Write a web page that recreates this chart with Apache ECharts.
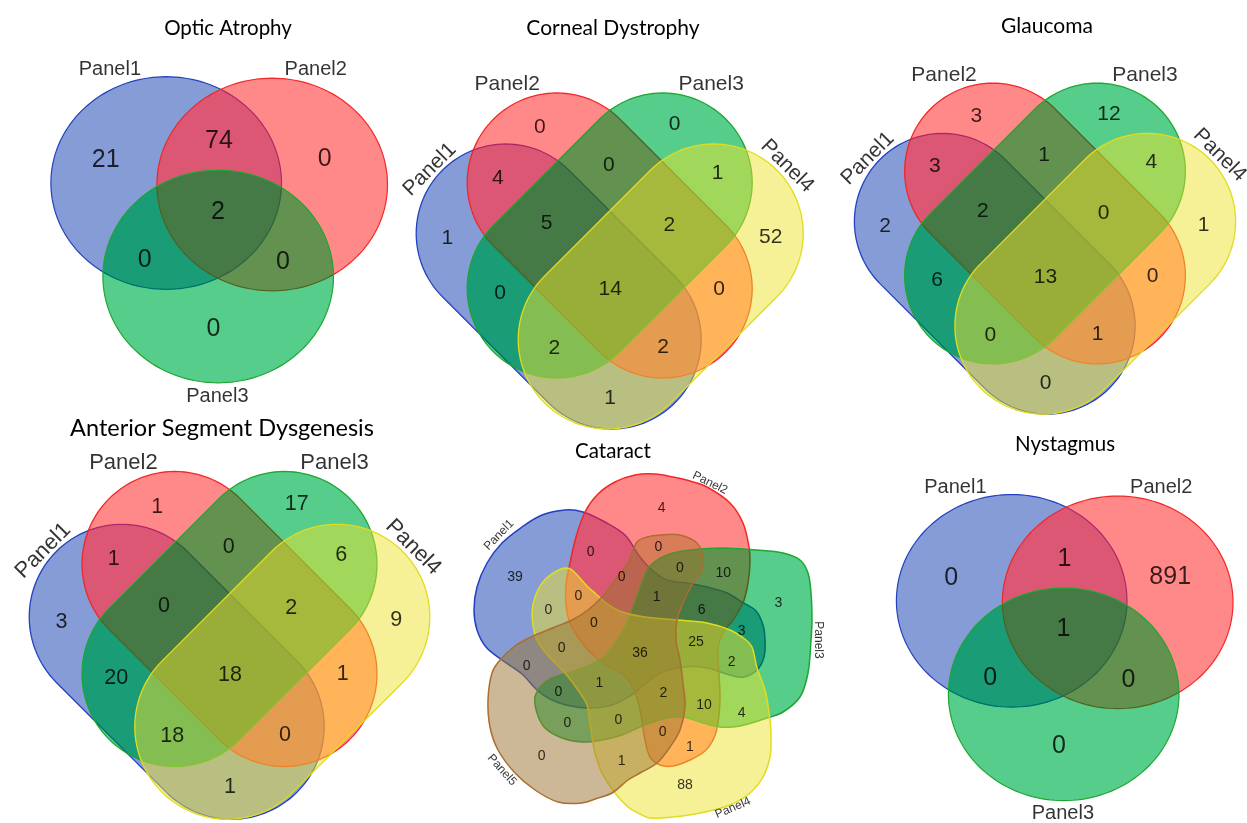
<!DOCTYPE html>
<html>
<head>
<meta charset="utf-8">
<script src="https://cdn.jsdelivr.net/npm/echarts@6/dist/echarts.min.js"></script>
<style>
html,body{margin:0;padding:0;background:#fff;}
#c{width:1247px;height:823px;filter:saturate(2);}
</style>
</head>
<body>
<div id="c"></div>
<script>
// ================= DATA =================
const panelTitles = ['Optic Atrophy', 'Corneal Dystrophy', 'Glaucoma', 'Anterior Segment Dysgenesis', 'Cataract', 'Nystagmus'];

// 3-set diagrams (region key = sets contained)
const set3Names = ['Panel1', 'Panel2', 'Panel3'];
const region3Keys = ['1', '12', '2', '123', '13', '23', '3'];
const opticAtrophyCounts = [21, 74, 0, 2, 0, 0, 0];
const nystagmusCounts = [0, 1, 891, 1, 0, 0, 0];

// 4-set diagrams
const set4Names = ['Panel1', 'Panel2', 'Panel3', 'Panel4'];
const region4Keys = ['2', '3', '12', '23', '34', '1', '123', '234', '4', '13', '1234', '24', '134', '124', '14'];
const cornealDystrophyCounts = [0, 0, 4, 0, 1, 1, 5, 2, 52, 0, 14, 0, 2, 2, 1];
const glaucomaCounts = [3, 12, 3, 1, 4, 2, 2, 0, 1, 6, 13, 0, 0, 1, 0];
const asdCounts = [1, 17, 1, 0, 6, 3, 0, 2, 9, 20, 18, 1, 18, 0, 1];

// 5-set diagram
const set5Names = ['Panel1', 'Panel2', 'Panel3', 'Panel4', 'Panel5'];
const region5Keys = ['1','2','12','25','125','235','23','3','124','1235','14','123','1245','13','1234','145','12345','15','134','1345','135','2345','234','34','35','345','245','24','5','45','4'];
const cataractCounts = [39,4,0,0,0,0,10,3,0,1,0,6,0,3,25,0,36,0,2,1,0,2,10,4,0,0,0,1,0,1,88];

// ================= STYLE =================
const FILL = ['rgba(35,57,115,0.5)', 'rgba(192,48,48,0.5)', 'rgba(8,125,60,0.5)', 'rgba(225,220,130,0.5)', 'rgba(136,115,81,0.5)'];
const STROKE = ['rgb(51,66,129)', 'rgb(161,61,61)', 'rgb(79,147,89)', 'rgb(216,214,119)', 'rgb(144,114,84)'];
const NUM_FONT = '"Liberation Sans", Arial, Helvetica, sans-serif';
const TITLE_FONT = 'Lato, "Open Sans", sans-serif';

// ================= LAYOUT TEMPLATES (diagram geometry, local units) =================
const layout3 = {
  centers: [[0, 0], [106, 1.5], [52, 93.5]], rx: 115.3, ry: 106.3,
  regionPos: { '1': [-60.5, -22.7], '12': [52.8, -41.8], '2': [158.5, -24], '123': [51.8, 28.8], '13': [-21.5, 77.2], '23': [116.8, 79], '3': [47.3, 145.7] },
  labelPos: [[-56.3, -113.5], [149.5, -113.2], [51.2, 213]],
  labelRot: [0, 0, 0],
  xr: [-125, 230], yr: [-130, 220]
};
const layout4 = {
  axes: [[[-104, -2], [2, 104]], [[-53, -53], [53, 53]], [[53, -53], [-53, 53]], [[104, -2], [-2, 104]]], r: 89.5,
  regionPos: {
    '2': [-69.8, -108.5], '3': [65, -110.8], '12': [-111.9, -57.7], '23': [-0.8, -69.8], '34': [107.9, -62],
    '1': [-162.4, 2.6], '123': [-63.2, -12.2], '234': [59.6, -10.3], '4': [161, 1.5],
    '13': [-109.5, 57.4], '1234': [0.5, 54.2], '24': [109.3, 53.5],
    '134': [-55.4, 113.2], '124': [53.5, 112.2], '14': [0.5, 162.5]
  },
  labelPos: [[-180, -66], [-102.5, -151], [101.5, -151], [177.5, -69.5]],
  labelRot: [45, 0, 0, -45],
  xr: [-215, 205], yr: [-185, 195]
};
const layout5 = {
  outlines: [
    [[-75,-140],[-57,-138],[-35,-128],[-15,-115],[0,-93],[12,-80],[27,-70],[47,-67],[67,-63],[87,-57],[102,-48],[116,-39],[123,-25],[125,-10],[124,7],[117,20],[104,27],[90,25],[67,18],[43,17],[20,23],[5,34],[-7,44],[-28,55],[-52,58],[-74,55],[-90,49],[-103,40],[-118,24],[-138,10],[-154,-3],[-163,-20],[-166,-40],[-163,-63],[-153,-87],[-138,-107],[-118,-123],[-98,-135]],
    [[-55,-138],[-42,-156],[-25,-168],[-5,-175],[15,-176],[33,-173],[50,-169],[67,-163],[90,-147],[103,-127],[109,-103],[110,-88],[108,-67],[103,-47],[93,-30],[83,-17],[78,-2],[79,23],[80,50],[78,73],[74,88],[65,101],[50,110],[33,116],[20,115],[10,107],[5,90],[1,65],[-4,45],[-14,27],[-32,16],[-45,7],[-60,-10],[-70,-27],[-74,-45],[-74,-65],[-70,-87],[-64,-113]],
    [[10,-84],[27,-95],[50,-100],[83,-102],[117,-100],[143,-97],[160,-90],[168,-77],[171,-57],[172,-30],[171,-10],[168,23],[160,47],[143,62],[127,68],[100,76],[80,77],[60,72],[43,67],[27,68],[10,73],[0,77],[-18,85],[-38,90],[-58,92],[-78,88],[-95,78],[-103,63],[-105,47],[-98,35],[-88,28],[-63,20],[-37,7],[-17,-20],[-3,-53],[3,-70]],
    [[-108,-37],[-105,-53],[-97,-68],[-85,-78],[-75,-82],[-68,-80],[-52,-63],[-44,-56],[-34,-47],[-18,-38],[5,-33],[37,-30],[67,-27],[90,-20],[106,-10],[112,-3],[117,18],[125,40],[130,70],[131,90],[130,107],[123,127],[110,143],[90,155],[60,163],[33,167],[10,168],[0,164],[-12,157],[-25,143],[-38,123],[-45,103],[-48,87],[-50,73],[-53,55],[-62,40],[-75,23],[-85,13],[-98,-2],[-105,-15]],
    [[-3,-108],[7,-113],[20,-115],[40,-115],[57,-107],[63,-93],[62,-80],[53,-67],[43,-47],[37,-30],[36,-10],[40,10],[43,33],[45,57],[40,80],[30,97],[17,113],[0,123],[-12,130],[-28,143],[-42,148],[-58,153],[-82,152],[-105,140],[-125,123],[-142,100],[-150,77],[-152,50],[-148,23],[-140,10],[-125,-4],[-109,-13],[-85,-23],[-68,-30],[-52,-40],[-38,-53],[-25,-70],[-12,-87]]
  ],
  regionPos: {
    '1': [-125, -73.3], '2': [21.7, -141.7], '12': [-49.3, -97.7], '25': [18.3, -102.7], '125': [-18.3, -73.3],
    '235': [40, -81.7], '23': [83.3, -76.7], '3': [138.3, -47.3], '124': [-61.7, -54], '1235': [16.7, -53.3],
    '14': [-91.7, -40], '123': [61.7, -40], '1245': [-46, -27.3], '13': [101.7, -19.3], '1234': [56, -7.7],
    '145': [-78.3, -1.7], '12345': [0, 2.7], '15': [-113.3, 15.7], '134': [91.7, 12.3], '1345': [-40.7, 33.3],
    '135': [-81.7, 41.7], '2345': [23.3, 43.3], '234': [64, 55], '34': [101.7, 62.7], '35': [-72.7, 73.3],
    '345': [-21.7, 70], '245': [22.7, 81.7], '24': [50, 97.3], '5': [-98.3, 106], '45': [-18.3, 110.7], '4': [45, 135]
  },
  labelPos: [[-141, -115], [70, -167], [178, -10], [93, 158], [-138, 120]],
  labelRot: [46, -26, -90, 23, -48],
  xr: [-200, 200], yr: [-200, 200]
};

// panel placement: [origin px, scale]
const placement = {
  optic: [[166.2, 183], 1], corneal: [[609.7, 235.5], 1], glaucoma: [[1045, 223.5], 0.985],
  asd: [[229.5, 619], 1.035], cataract: [[640, 650], 1], nystagmus: [[1011.7, 600.8], 1]
};
const titlePos = [[228, 28], [613, 28.5], [1047, 26.5], [222, 428.5], [613, 451.5], [1065, 444.5]];
const titleSize = [20.5, 21, 21, 23.5, 20.5, 20.5];

// ================= BUILD =================
function ellipsePts(c, rx, ry) {
  const p = [], n = 160;
  for (let k = 0; k < n; k++) { const t = 2 * Math.PI * k / n; p.push([c[0] + rx * Math.cos(t), c[1] + ry * Math.sin(t)]); }
  return p;
}
function stadiumPts(a, b, r) {
  const p = [], n = 60, th = Math.atan2(b[1] - a[1], b[0] - a[0]);
  for (let k = 0; k <= n; k++) { const t = th - Math.PI / 2 + Math.PI * k / n; p.push([b[0] + r * Math.cos(t), b[1] + r * Math.sin(t)]); }
  for (let k = 0; k <= n; k++) { const t = th + Math.PI / 2 + Math.PI * k / n; p.push([a[0] + r * Math.cos(t), a[1] + r * Math.sin(t)]); }
  return p;
}

const grids = [], xAxes = [], yAxes = [], series = [];
function addPanel(place, xr, yr) {
  const o = place[0], s = place[1], gi = grids.length;
  grids.push({ left: o[0] + xr[0] * s, top: o[1] + yr[0] * s, width: (xr[1] - xr[0]) * s, height: (yr[1] - yr[0]) * s, containLabel: false, outerBoundsMode: 'none', show: false });
  xAxes.push({ gridIndex: gi, type: 'value', min: xr[0], max: xr[1], show: false, splitLine: { show: false } });
  yAxes.push({ gridIndex: gi, type: 'value', min: yr[0], max: yr[1], inverse: true, show: false, splitLine: { show: false } });
  return gi;
}
function shapeSeries(gi, shapes, smooth, lw) {
  return {
    type: 'custom', coordinateSystem: 'cartesian2d', xAxisIndex: gi, yAxisIndex: gi, silent: true, animation: false, z: 2,
    data: shapes.map((s, i) => [i, 0]),
    renderItem: function (params, api) {
      const i = params.dataIndex;
      return { type: 'polygon', shape: { points: shapes[i].map(p => api.coord(p)), smooth: smooth },
               style: { fill: FILL[i], stroke: STROKE[i], lineWidth: lw } };
    }
  };
}
function textSeries(gi, items, fontSize) {
  return {
    type: 'scatter', xAxisIndex: gi, yAxisIndex: gi, silent: true, animation: false, z: 5,
    symbolSize: 1, itemStyle: { color: 'rgba(0,0,0,0)' },
    data: items.map(it => ({ name: it.text, value: [it.x, it.y], label: { rotate: it.rot || 0 } })),
    label: { show: true, position: 'inside', formatter: '{b}', color: '#000', fontFamily: NUM_FONT, fontSize: fontSize, align: 'center', verticalAlign: 'middle' }
  };
}
function regionItems(layout, keys, counts) {
  return keys.map((k, i) => ({ x: layout.regionPos[k][0], y: layout.regionPos[k][1], text: String(counts[i]) }));
}
function setLabelItems(layout, names) {
  return names.map((n, i) => ({ x: layout.labelPos[i][0], y: layout.labelPos[i][1], text: n, rot: layout.labelRot[i] }));
}

function venn3(place, counts, numSize, labSize) {
  const gi = addPanel(place, layout3.xr, layout3.yr);
  const shapes = layout3.centers.map(c => ellipsePts(c, layout3.rx, layout3.ry));
  series.push(shapeSeries(gi, shapes, 0, 1.2));
  series.push(textSeries(gi, regionItems(layout3, region3Keys, counts), numSize));
  series.push(textSeries(gi, setLabelItems(layout3, set3Names), labSize));
}
function venn4(place, counts, numSize, labSize) {
  const gi = addPanel(place, layout4.xr, layout4.yr);
  const shapes = layout4.axes.map(a => stadiumPts(a[0], a[1], layout4.r));
  series.push(shapeSeries(gi, shapes, 0, 1.3));
  series.push(textSeries(gi, regionItems(layout4, region4Keys, counts), numSize));
  series.push(textSeries(gi, setLabelItems(layout4, set4Names), labSize));
}
function venn5(place, counts, numSize, labSize) {
  const gi = addPanel(place, layout5.xr, layout5.yr);
  series.push(shapeSeries(gi, layout5.outlines, 0.35, 1.5));
  series.push(textSeries(gi, regionItems(layout5, region5Keys, counts), numSize));
  series.push(textSeries(gi, setLabelItems(layout5, set5Names), labSize));
}

venn3(placement.optic, opticAtrophyCounts, 25, 20);
venn4(placement.corneal, cornealDystrophyCounts, 21, 21);
venn4(placement.glaucoma, glaucomaCounts, 21, 21);
venn4(placement.asd, asdCounts, 21.5, 22);
venn5(placement.cataract, cataractCounts, 14, 12);
venn3(placement.nystagmus, nystagmusCounts, 25, 20);

const titles = panelTitles.map((t, i) => ({
  text: t, left: titlePos[i][0], top: titlePos[i][1], textAlign: 'center', textVerticalAlign: 'middle', padding: 0,
  textStyle: { fontFamily: TITLE_FONT, fontSize: titleSize[i], fontWeight: 'normal', color: '#000' }
}));

const chart = echarts.init(document.getElementById('c'), null, { renderer: 'canvas' });
chart.setOption({
  backgroundColor: '#ffffff',
  animation: false,
  title: titles,
  grid: grids, xAxis: xAxes, yAxis: yAxes,
  series: series
});
</script>
</body>
</html>
